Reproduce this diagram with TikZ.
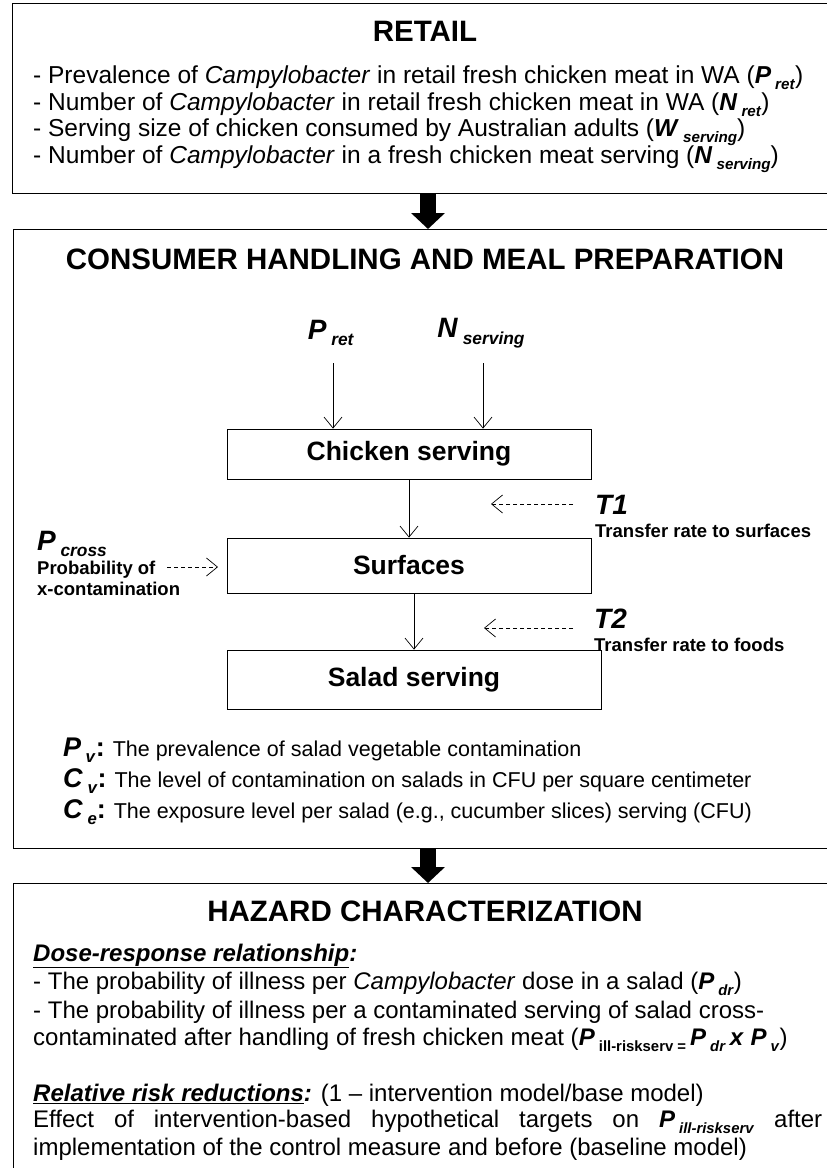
\documentclass[tikz,border=0pt]{standalone}
\usepackage{fontspec}
\setmainfont{Liberation Sans}
\usetikzlibrary{arrows.meta}
\newcommand{\vsub}[2]{\textbf{\textit{#1}}\,\raisebox{-0.45ex}{\scalebox{0.62}{\textbf{\textit{#2}}}}}
\newcommand{\usub}[2]{\textbf{\textit{#1}}\,\raisebox{-0.45ex}{\scalebox{0.62}{\textbf{#2}}}}

\begin{document}
\begin{tikzpicture}[x=1pt, y=-1pt,
  panel/.style={draw, line width=1.3pt, anchor=north west, inner sep=0pt},
  stepbox/.style={draw, line width=0.8pt, inner sep=0pt, font=\fontsize{26.5}{30}\selectfont\bfseries},
  title/.style={inner sep=0pt, font=\fontsize{29.5}{33}\selectfont\bfseries},
  txt/.style={anchor=west, inner sep=0pt, font=\fontsize{24}{27}\selectfont},
  deftxt/.style={anchor=west, inner sep=0pt, font=\fontsize{21.5}{25}\selectfont},
  note/.style={anchor=west, inner sep=0pt, align=left, font=\fontsize{18.5}{21}\selectfont\bfseries},
  bigvar/.style={inner sep=0pt, font=\fontsize{28}{30}\selectfont},
  flow/.style={->, line width=0.7pt},
  feed/.style={->, line width=0.7pt, dash pattern=on 4pt off 3pt},
  bigarrow/.style={-{Triangle[length=16pt,width=33pt]}, line width=16pt},
  >={Straight Barb[length=11pt,width=18pt]}]

\useasboundingbox (0,0) rectangle (827,1168);
\clip (0,0) rectangle (827,1168);

% panels
\node[panel, minimum width=840pt, minimum height=190pt] (retail) at (12,3) {};
\node[panel, minimum width=840pt, minimum height=619pt] (consumer) at (13,229) {};
\node[panel, minimum width=840pt, minimum height=400pt] (hazard) at (13,883) {};
\coordinate (axis) at (428,0);
\draw[bigarrow] (retail.south -| axis) -- (consumer.north -| axis);
\draw[bigarrow] (consumer.south -| axis) -- (hazard.north -| axis);

% retail
\node[title] (rtitle) at (425,31) {RETAIL};
\begin{scope}[every node/.style={txt, font=\fontsize{24.5}{27}\selectfont}]
\node (r1) at (33,78) {- Prevalence of \textit{Campylobacter} in retail fresh chicken meat in WA (\vsub{P}{ret})};
\node (r2) at (33,105) {- Number of \textit{Campylobacter} in retail fresh chicken meat in WA (\vsub{N}{ret})};
\node (r3) at (33,132) {- Serving size of chicken consumed by Australian adults (\vsub{W}{serving})};
\node (r4) at (33,159) {- Number of \textit{Campylobacter} in a fresh chicken meat serving (\vsub{N}{serving})};
\end{scope}

% consumer handling
\node[title] (ctitle) at (425,259) {CONSUMER HANDLING AND MEAL PREPARATION};
\node[bigvar] (pret) at (331,333) {\vsub{P}{ret}};
\node[bigvar] (nserv) at (481,333) {\vsub{N}{serving}};
\node[stepbox, minimum width=364pt, minimum height=50pt] (chicken) at (409,454) {Chicken serving};
\node[stepbox, minimum width=364pt, minimum height=55pt] (surfaces) at (409,565.5) {Surfaces};
\node[stepbox, minimum width=374pt, minimum height=59pt] (salad) at (414,679.5) {Salad serving};
\coordinate (pin) at (333,363);
\coordinate (nin) at (483,363);
\draw[flow] (pin) -- (pin |- chicken.north);
\draw[flow] (nin) -- (nin |- chicken.north);
\draw[flow] (chicken) -- (surfaces);
\draw[flow] (surfaces.south -| salad.north) -- (salad.north);

\node[bigvar, anchor=west] (t1) at (595,505) {\textbf{\textit{T1}}};
\node[note] (t1txt) at (595,531) {Transfer rate to surfaces};
\coordinate (t1a) at (573,504);
\coordinate (t1b) at (491,504);
\draw[feed] (t1a) -- (t1b);

\node[bigvar, anchor=west] (t2) at (594,619) {\textbf{\textit{T2}}};
\node[note] (t2txt) at (594,645) {Transfer rate to foods};
\coordinate (t2a) at (573,628);
\coordinate (t2b) at (484,628);
\draw[feed] (t2a) -- (t2b);

\node[bigvar, anchor=west] (pcross) at (37,544) {\vsub{P}{cross}};
\node[note] (pctxt) at (37,578) {Probability of\\x-contamination};
\coordinate (pca) at (167,567);
\coordinate (pcb) at (218,567);
\draw[feed] (pca) -- (pcb);

\begin{scope}[every node/.style=deftxt]
\node (pv) at (63,750) {{\fontsize{27}{30}\selectfont\vsub{P}{v}\textbf{:}} The prevalence of salad vegetable contamination};
\node (cv) at (63,781) {{\fontsize{27}{30}\selectfont\vsub{C}{v}\textbf{:}} The level of contamination on salads in CFU per square centimeter};
\node (ce) at (63,812) {{\fontsize{27}{30}\selectfont\vsub{C}{e}\textbf{:}} The exposure level per salad (e.g., cucumber slices) serving (CFU)};
\end{scope}

% hazard characterization
\node[title] (htitle) at (425,911) {HAZARD CHARACTERIZATION};
\begin{scope}[every node/.style=txt]
\node (h1) at (33,956) {\underline{\textbf{\textit{Dose-response relationship}}}\textbf{\textit{:}}};
\node (h2) at (33,984) {- The probability of illness per \textit{Campylobacter} dose in a salad (\vsub{P}{dr})};
\node (h3) at (33,1012) {- The probability of illness per a contaminated serving of salad cross-};
\node (h4) at (33,1040) {contaminated after handling of fresh chicken meat (\usub{P}{ill-riskserv =}\,\vsub{P}{dr}\,\textbf{\textit{x}} \vsub{P}{v})};
\node (h5) at (33,1095) {\underline{\textbf{\textit{Relative risk reductions}}}\textbf{\textit{:}} (1 -- intervention model/base model)};
\node (h6) at (33,1122) {\makebox[789pt][s]{Effect of intervention-based hypothetical targets on \vsub{P}{ill-riskserv} after}};
\node (h7) at (33,1149) {implementation of the control measure and before (baseline model)};
\end{scope}
\end{tikzpicture}
\end{document}
